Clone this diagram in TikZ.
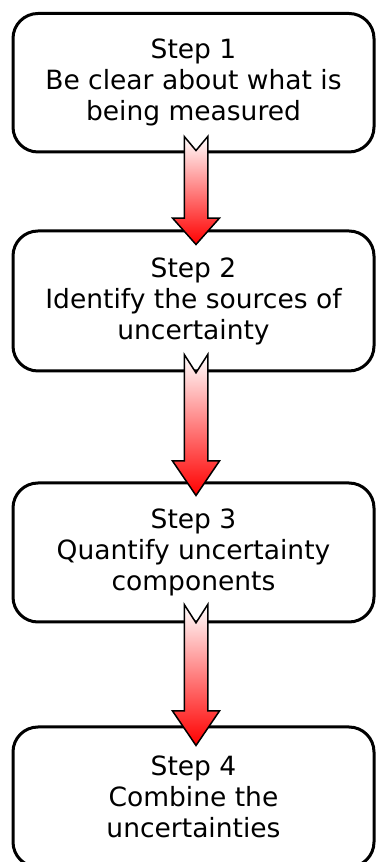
\documentclass[tikz,border=0pt]{standalone}
\usepackage{fontspec}
\setmainfont{DejaVu Sans}
\usepackage{tikz}
\usetikzlibrary{positioning, calc}

\tikzset{
  stepbox/.style={draw, line width=3pt, rounded corners=25pt, minimum width=361pt,
    align=center, inner sep=0pt, font=\fontsize{26.5}{31}\selectfont},
  blockarrow/.style={draw=black, line width=1.5pt, line join=miter,
    top color=white, middle color=red!40, bottom color=red},
}

% block arrow from box #1 to box #2 (#3 = overlap at tail, #4 = overlap at tip)
\newcommand{\flowarrow}[4]{%
  \path ($(#1.south)+(2.5,#3)$) coordinate (#1-tail)
        ($(#2.north)+(2.5,-#4)$) coordinate (#1-tip);
  \draw[blockarrow] let \p1=(#1-tail), \p2=(#1-tip), \n1={\y1-\y2} in
    (\x1-11.75pt,\y1) -- (\x1,\y1-0.13*\n1) -- (\x1+11.75pt,\y1)
    -- (\x1+11.75pt,\y2+0.245*\n1) -- (\x1+23.5pt,\y2+0.245*\n1)
    -- (\x2,\y2)
    -- (\x1-23.5pt,\y2+0.245*\n1) -- (\x1-11.75pt,\y2+0.245*\n1) -- cycle;
}

\begin{document}
\begin{tikzpicture}[x=1pt, y=1pt]
\useasboundingbox (0,0) rectangle (377,862);

% --- Steps ---
\node[stepbox, minimum height=138.5] (step1) at (193.5,779.25)
  {Step 1\\Be clear about what is\\being measured};
\node[stepbox, minimum height=140] (step2) at (193.5,561)
  {Step 2\\Identify the sources of\\uncertainty};
\node[stepbox, minimum height=139] (step3) at (193.5,309.5)
  {Step 3\\Quantify uncertainty\\components};
\node[stepbox, minimum height=140] (step4) at (193.5,65)
  {Step 4\\Combine the\\uncertainties};

% --- Arrows between steps ---
\flowarrow{step1}{step2}{17}{15}
\flowarrow{step2}{step3}{18}{14}
\flowarrow{step3}{step4}{19}{20}
\end{tikzpicture}
\end{document}
